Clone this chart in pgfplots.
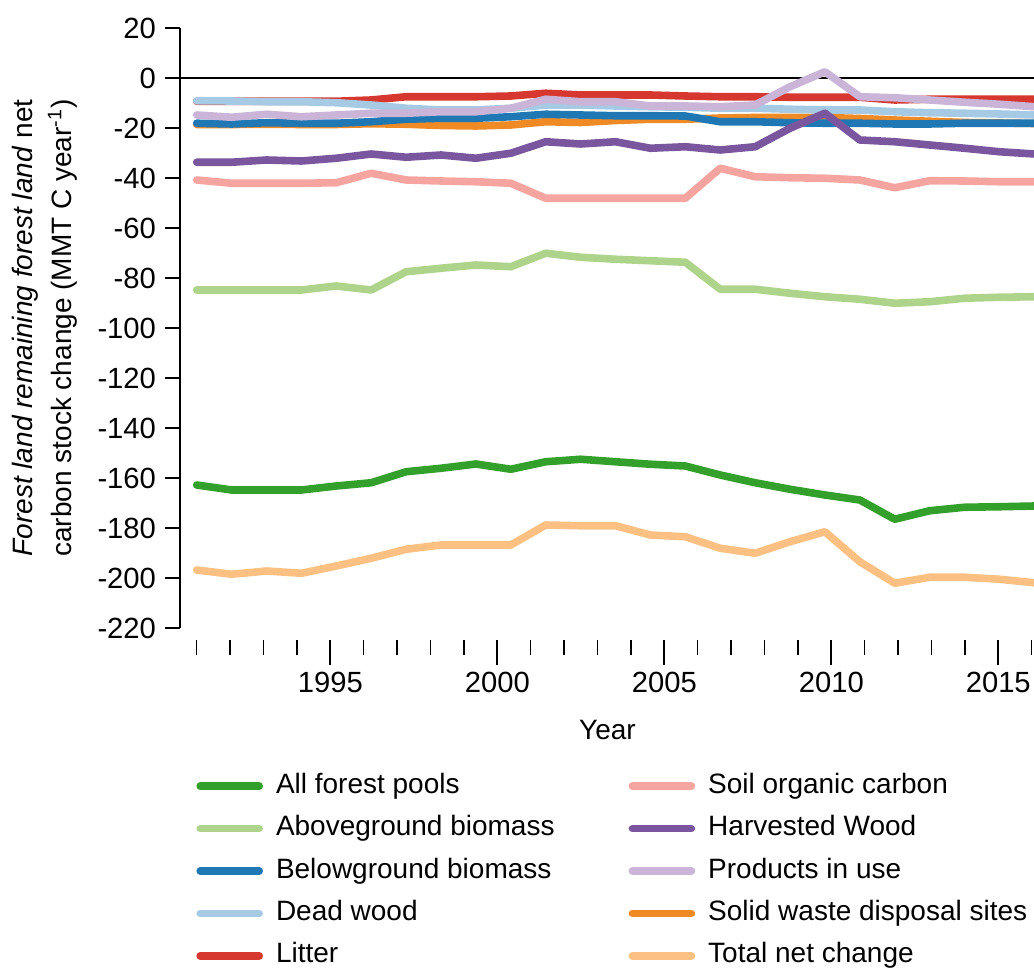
\documentclass[border=0pt]{standalone}
\usepackage{pgfplots}
\pgfplotsset{compat=1.18}
\usepackage{pgfplotstable}
\usepackage{fontspec}
\setmainfont{Liberation Sans}

\definecolor{cAll}{RGB}{51,160,44}
\definecolor{cAbove}{RGB}{174,212,140}
\definecolor{cBelow}{RGB}{31,120,180}
\definecolor{cDead}{RGB}{166,202,228}
\definecolor{cLitter}{RGB}{214,56,48}
\definecolor{cSoil}{RGB}{246,164,160}
\definecolor{cHarv}{RGB}{122,86,158}
\definecolor{cProd}{RGB}{202,180,216}
\definecolor{cSolid}{RGB}{240,138,36}
\definecolor{cTotal}{RGB}{251,192,130}

\pgfplotstableread{
x all above below dead litter soil harv prod solid total
1991.000 -162.8 -84.8 -18.1 -9.1 -9.3 -40.8 -33.7 -14.8 -18.6 -196.8
1992.045 -164.8 -84.8 -18.4 -9.2 -9.3 -42.1 -33.7 -15.7 -18.6 -198.5
1993.090 -164.8 -84.8 -17.9 -9.5 -9.3 -42.1 -32.8 -14.5 -18.5 -197.2
1994.135 -164.8 -84.8 -18.1 -9.5 -9.3 -42.1 -33.2 -15.5 -18.6 -198.1
1995.180 -163.2 -83.2 -18.1 -9.9 -9.3 -41.9 -32.1 -14.8 -18.6 -195.2
1996.225 -161.9 -84.8 -17.5 -10.8 -8.8 -38.1 -30.4 -14.1 -18.3 -192.1
1997.270 -157.5 -77.5 -16.5 -12.1 -7.5 -40.8 -31.7 -14.1 -18.5 -188.5
1998.315 -156.1 -76.1 -16.1 -12.8 -7.5 -41.2 -30.8 -13.5 -19.0 -186.8
1999.360 -154.4 -74.8 -16.1 -12.8 -7.5 -41.5 -32.1 -13.5 -19.2 -186.8
2000.405 -156.5 -75.5 -15.5 -12.1 -7.2 -42.1 -30.1 -12.1 -18.8 -186.8
2001.450 -153.5 -70.1 -14.5 -10.8 -6.1 -48.1 -25.5 -8.5 -17.5 -178.8
2002.495 -152.5 -71.7 -14.8 -10.8 -6.8 -48.1 -26.4 -9.5 -17.8 -179.1
2003.540 -153.5 -72.5 -15.1 -11.2 -6.8 -48.1 -25.5 -9.5 -17.0 -179.1
2004.585 -154.5 -73.1 -15.1 -11.5 -6.8 -48.1 -28.1 -11.2 -16.5 -182.8
2005.630 -155.2 -73.7 -15.2 -11.7 -7.2 -48.1 -27.5 -11.2 -16.5 -183.5
2006.675 -158.8 -84.5 -17.5 -12.1 -7.5 -36.1 -28.8 -11.5 -16.0 -188.1
2007.720 -161.9 -84.5 -17.5 -12.1 -7.5 -39.5 -27.5 -10.8 -15.8 -190.1
2008.765 -164.5 -86.1 -17.9 -12.5 -7.7 -39.9 -20.1 -3.5 -15.8 -185.5
2009.810 -166.8 -87.5 -18.1 -12.8 -7.7 -40.1 -14.1 2.5 -15.8 -181.5
2010.855 -168.8 -88.5 -18.1 -12.8 -7.7 -40.8 -24.8 -7.5 -16.2 -193.5
2011.900 -176.5 -90.1 -18.4 -13.5 -8.8 -43.9 -25.5 -7.9 -16.8 -202.1
2012.945 -173.1 -89.5 -18.4 -13.9 -8.5 -41.1 -26.8 -8.8 -17.3 -199.7
2013.990 -171.7 -88.1 -18.1 -14.1 -8.5 -41.2 -28.1 -9.7 -17.8 -199.7
2015.035 -171.5 -87.7 -18.1 -14.4 -8.5 -41.5 -29.5 -10.5 -18.0 -200.5
2016.080 -171.2 -87.5 -18.1 -14.8 -8.5 -41.5 -30.4 -11.5 -18.2 -201.9
}\data

\newcommand{\fnt}{\fontsize{14}{16.8}\selectfont}
\newcommand{\tfnt}{\fontsize{14.6}{17}\selectfont}

\begin{document}
\begin{tikzpicture}
\useasboundingbox (-90pt,-170pt) rectangle (427pt,314pt);
\begin{axis}[
  at={(0pt,0pt)}, anchor=south west,
  width=427.5pt, height=300pt, scale only axis,
  xmin=1990.5, xmax=2016.1, ymin=-220, ymax=20,
  axis x line=none,
  axis y line*=left,
  axis line style={-, black, line width=0.8pt},
  ytick={-220,-200,...,20},
  tick align=outside,
  major tick length=7.5pt,
  ytick style={black, line width=0.8pt},
  /pgf/number format/assume math mode=true,
  yticklabel style={font=\tfnt, xshift=-1pt},
  ylabel={\textit{Forest land remaining forest land} net\\carbon stock change (MMT C year\textsuperscript{-1})},
  ylabel style={font=\fontsize{14}{19.5}\selectfont, align=center},
  ylabel shift=3pt,
  every axis plot/.append style={line width=3.8pt, line join=round, line cap=round},
  legend columns=2,
  legend cell align=left,
  legend image code/.code={\draw[#1] (1.5pt,0pt) -- (31pt,0pt);},
  legend style={at={(0.0117,-0.228)}, anchor=north west, draw=none, fill=none,
    font=\fnt, row sep=4.2pt,
    nodes={inner sep=2pt, text height=10pt, text depth=3pt},
    /tikz/every odd column/.append style={column sep=4.5pt},
    /tikz/every even column/.append style={column sep=35pt}},
]
\draw[black, line width=0.9pt] (axis cs:1990.5,0) -- (axis cs:2016.1,0);
\addplot[cLitter, forget plot] table[x=x,y=litter]{\data};
\addplot[cSolid, forget plot] table[x=x,y=solid]{\data};
\addplot[cBelow, forget plot] table[x=x,y=below]{\data};
\addplot[cDead, forget plot] table[x=x,y=dead]{\data};
\addplot[cProd, forget plot] table[x=x,y=prod]{\data};
\addplot[cHarv, forget plot] table[x=x,y=harv]{\data};
\addplot[cSoil, forget plot] table[x=x,y=soil]{\data};
\addplot[cAbove, forget plot] table[x=x,y=above]{\data};
\addplot[cAll, forget plot] table[x=x,y=all]{\data};
\addplot[cTotal, forget plot] table[x=x,y=total]{\data};

\addlegendimage{cAll, line width=3.8pt, line cap=round}
\addlegendentry{All forest pools}
\addlegendimage{cSoil, line width=3.8pt, line cap=round}
\addlegendentry{Soil organic carbon}
\addlegendimage{cAbove, line width=3.8pt, line cap=round}
\addlegendentry{Aboveground biomass}
\addlegendimage{cHarv, line width=3.8pt, line cap=round}
\addlegendentry{Harvested Wood}
\addlegendimage{cBelow, line width=3.8pt, line cap=round}
\addlegendentry{Belowground biomass}
\addlegendimage{cProd, line width=3.8pt, line cap=round}
\addlegendentry{Products in use}
\addlegendimage{cDead, line width=3.8pt, line cap=round}
\addlegendentry{Dead wood}
\addlegendimage{cSolid, line width=3.8pt, line cap=round}
\addlegendentry{Solid waste disposal sites}
\addlegendimage{cLitter, line width=3.8pt, line cap=round}
\addlegendentry{Litter}
\addlegendimage{cTotal, line width=3.8pt, line cap=round}
\addlegendentry{Total net change}
\end{axis}

\begin{axis}[
  at={(0pt,-6pt)}, anchor=south west,
  width=427.5pt, height=1pt, scale only axis,
  xmin=1990.5, xmax=2016.1, ymin=0, ymax=1,
  hide y axis,
  axis x line*=bottom,
  x axis line style={draw=none},
  xtick={1995,2000,2005,2010,2015},
  minor xtick={1991,...,2016},
  tick align=outside,
  major tick length=12.5pt, minor tick length=7.5pt,
  xtick style={black, line width=0.8pt},
  minor x tick style={black, line width=0.8pt},
  xticklabel style={font=\tfnt},
  /pgf/number format/set thousands separator={},
  /pgf/number format/assume math mode=true,
  xlabel={Year}, xlabel style={font=\fnt, yshift=-7pt},
]
\addplot[draw=none] coordinates {(2000,0.5)};
\end{axis}
\end{tikzpicture}
\end{document}
